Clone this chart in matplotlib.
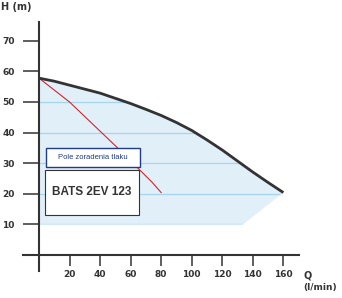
import matplotlib
matplotlib.use("Agg")
import matplotlib.pyplot as plt
from matplotlib.patches import Polygon, Rectangle

# pump curve (Q in l/min, H in m)
q_curve = [0, 10, 20, 30, 40, 50, 60, 70, 80, 90, 100, 110, 120, 130, 140, 150, 160]
h_curve = [57.8, 56.8, 55.5, 54.2, 52.9, 51.2, 49.5, 47.6, 45.6, 43.3, 40.7, 37.6,
           34.3, 30.7, 27.1, 23.7, 20.4]

# pressure setting zone (red line)
q_zone = [0, 20, 50, 74, 80]
h_zone = [57.8, 50, 35.7, 23.8, 20.4]

# working area lower bound
h_min = 10
q_min_end = 133.5

x_ticks = [20, 40, 60, 80, 100, 120, 140, 160]
y_ticks = [10, 20, 30, 40, 50, 60, 70]
grid_levels = [10, 20, 30, 40, 50]

dark = "#333333"

fig = plt.figure(figsize=(3.42, 2.98), dpi=100)
ax = fig.add_axes([0, 0, 1, 1])
ax.set_xlim(-25.53, 198.4)
ax.set_ylim(-14.05, 83.33)
ax.patch.set_alpha(0)

# shaded working area
poly_x = [0] + q_curve + [q_min_end, 0]
poly_y = [h_min] + h_curve + [h_min, h_min]
area = Polygon(list(zip(poly_x, poly_y)), closed=True, facecolor="#e1eff9",
               edgecolor="none", zorder=1)
ax.add_patch(area)

lines = ax.hlines(grid_levels, 0, max(q_curve), colors="#a6d5f0", linewidth=0.9, zorder=2)
lines.set_clip_path(area)

ax.plot(q_zone, h_zone, color="#d8232a", linewidth=0.8, zorder=3)
ax.plot(q_curve, h_curve, color=dark, linewidth=2.0, zorder=4,
        solid_capstyle="butt", solid_joinstyle="round")

# label boxes
ax.add_patch(Rectangle((4.6, 28.7), 61.5, 6.4, facecolor="white", edgecolor="#1f3c88",
                       linewidth=1.0, zorder=5))
ax.text(35.4, 31.9, "Pole zoradenia tlaku", ha="center", va="center", color="#1f3c88",
        fontsize=5.5, family="Liberation Sans", zorder=6)
ax.add_patch(Rectangle((3.9, 13.1), 61.6, 14.7, facecolor="white", edgecolor=dark,
                       linewidth=0.8, zorder=5))
ax.text(34.7, 20.7, "BATS 2EV 123", ha="center", va="center", color=dark,
        fontsize=8.5, fontweight="bold", family="Liberation Sans", zorder=6)

# axes as crossing lines
for s in ["top", "right"]:
    ax.spines[s].set_visible(False)
ax.spines["left"].set_position(("data", 0))
ax.spines["bottom"].set_position(("data", 0))
ax.spines["left"].set_bounds(-5.2, 76.1)
ax.spines["bottom"].set_bounds(-10.5, 170.5)
for s in ["left", "bottom"]:
    ax.spines[s].set_linewidth(1.5)
    ax.spines[s].set_color(dark)
    ax.spines[s].set_zorder(7)

ax.set_xticks(x_ticks)
ax.set_yticks(y_ticks)
ax.tick_params(axis="y", direction="out", length=11.5, width=1.1, color=dark, pad=6,
               labelsize=6.5, labelcolor=dark)
ax.tick_params(axis="x", direction="out", length=8, width=1.1, color=dark, pad=3,
               labelsize=6.5, labelcolor=dark)
for lab in ax.get_xticklabels() + ax.get_yticklabels():
    lab.set_fontweight("bold")

fig.text(1 / 342, 1 - 2 / 298, "H (m)", ha="left", va="top", fontsize=7,
         fontweight="bold", color=dark)
fig.text(304 / 342, 1 - 271 / 298, "Q", ha="left", va="top", fontsize=7,
         fontweight="bold", color=dark)
fig.text(303 / 342, 1 - 283 / 298, "(l/min)", ha="left", va="top", fontsize=6.5,
         fontweight="bold", color=dark)

fig.savefig("out.png", dpi=100)
